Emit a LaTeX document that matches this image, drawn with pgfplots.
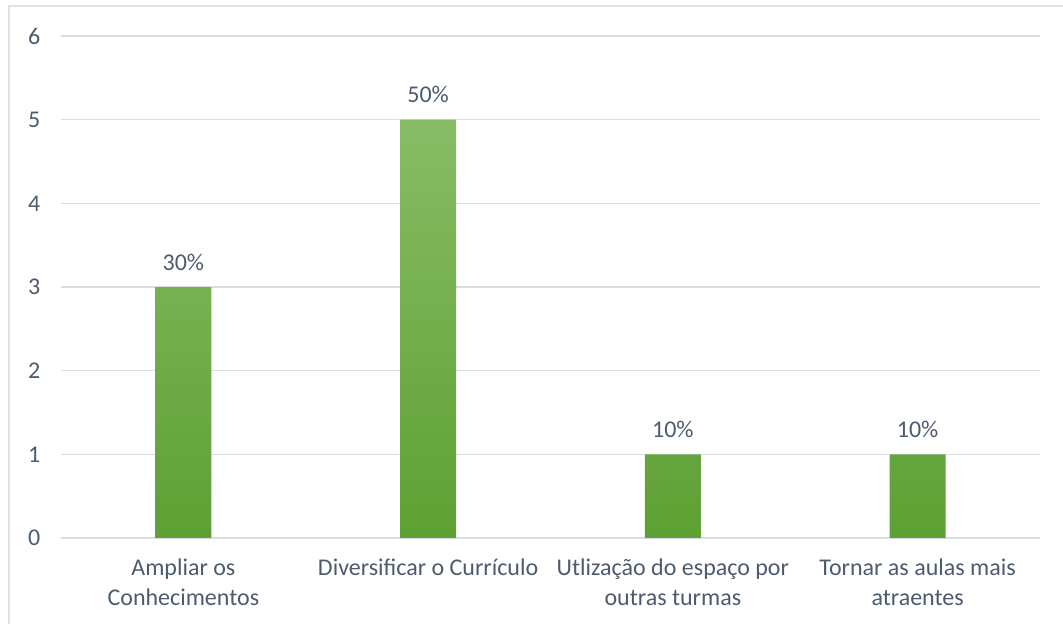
\documentclass[border=0pt]{standalone}
\usepackage{pgfplots}
\pgfplotsset{compat=1.18}
\usepackage{fontspec}
\setmainfont{Carlito}
\definecolor{txt}{HTML}{4D5B6E}
\definecolor{gridc}{HTML}{D9DEE4}
\definecolor{frame}{HTML}{DDE2E8}
\definecolor{gtop}{HTML}{88BC66}
\definecolor{gmid}{HTML}{70AD47}
\definecolor{gbot}{HTML}{5EA033}
\begin{document}
\begin{tikzpicture}
\useasboundingbox (0pt,0pt) rectangle (797.25pt,468pt);
\draw[frame, line width=1.5pt] (6.75pt,-15pt) rectangle (820pt,463.5pt);
\begin{axis}[
  at={(45.75pt,64.5pt)}, anchor=south west,
  scale only axis, width=734.25pt, height=376.5pt,
  xmin=-0.5, xmax=3.5, ymin=0, ymax=6,
  ytick={0,1,...,6},
  xtick={0,1,2,3},
  xticklabels={{Ampliar os\\Conhecimentos},{Diversificar o Currículo},{Utlização do espaço por\\outras turmas},{Tornar as aulas mais\\atraentes}},
  xticklabel style={align=center, font=\fontsize{18}{22}\selectfont, text=txt, anchor=north, yshift=-8pt},
  yticklabel style={font=\fontsize{18}{21}\selectfont, text=txt, anchor=east, xshift=-12pt},
  /pgf/number format/assume math mode=true,
  axis line style={draw=none},
  major tick style={draw=none},
  ymajorgrids, major grid style={color=gridc, line width=1.2pt},
  ybar, bar width=42pt,
  nodes near coords,
  point meta=explicit symbolic,
  nodes near coords style={font=\fontsize{18}{21}\selectfont, text=txt, anchor=south, yshift=9pt},
  clip=false,
]
\addplot[draw=none, top color=gtop, middle color=gmid, bottom color=gbot, shade] coordinates {(0,3) [30\%] (1,5) [50\%] (2,1) [10\%] (3,1) [10\%]};
\end{axis}
\end{tikzpicture}
\end{document}
